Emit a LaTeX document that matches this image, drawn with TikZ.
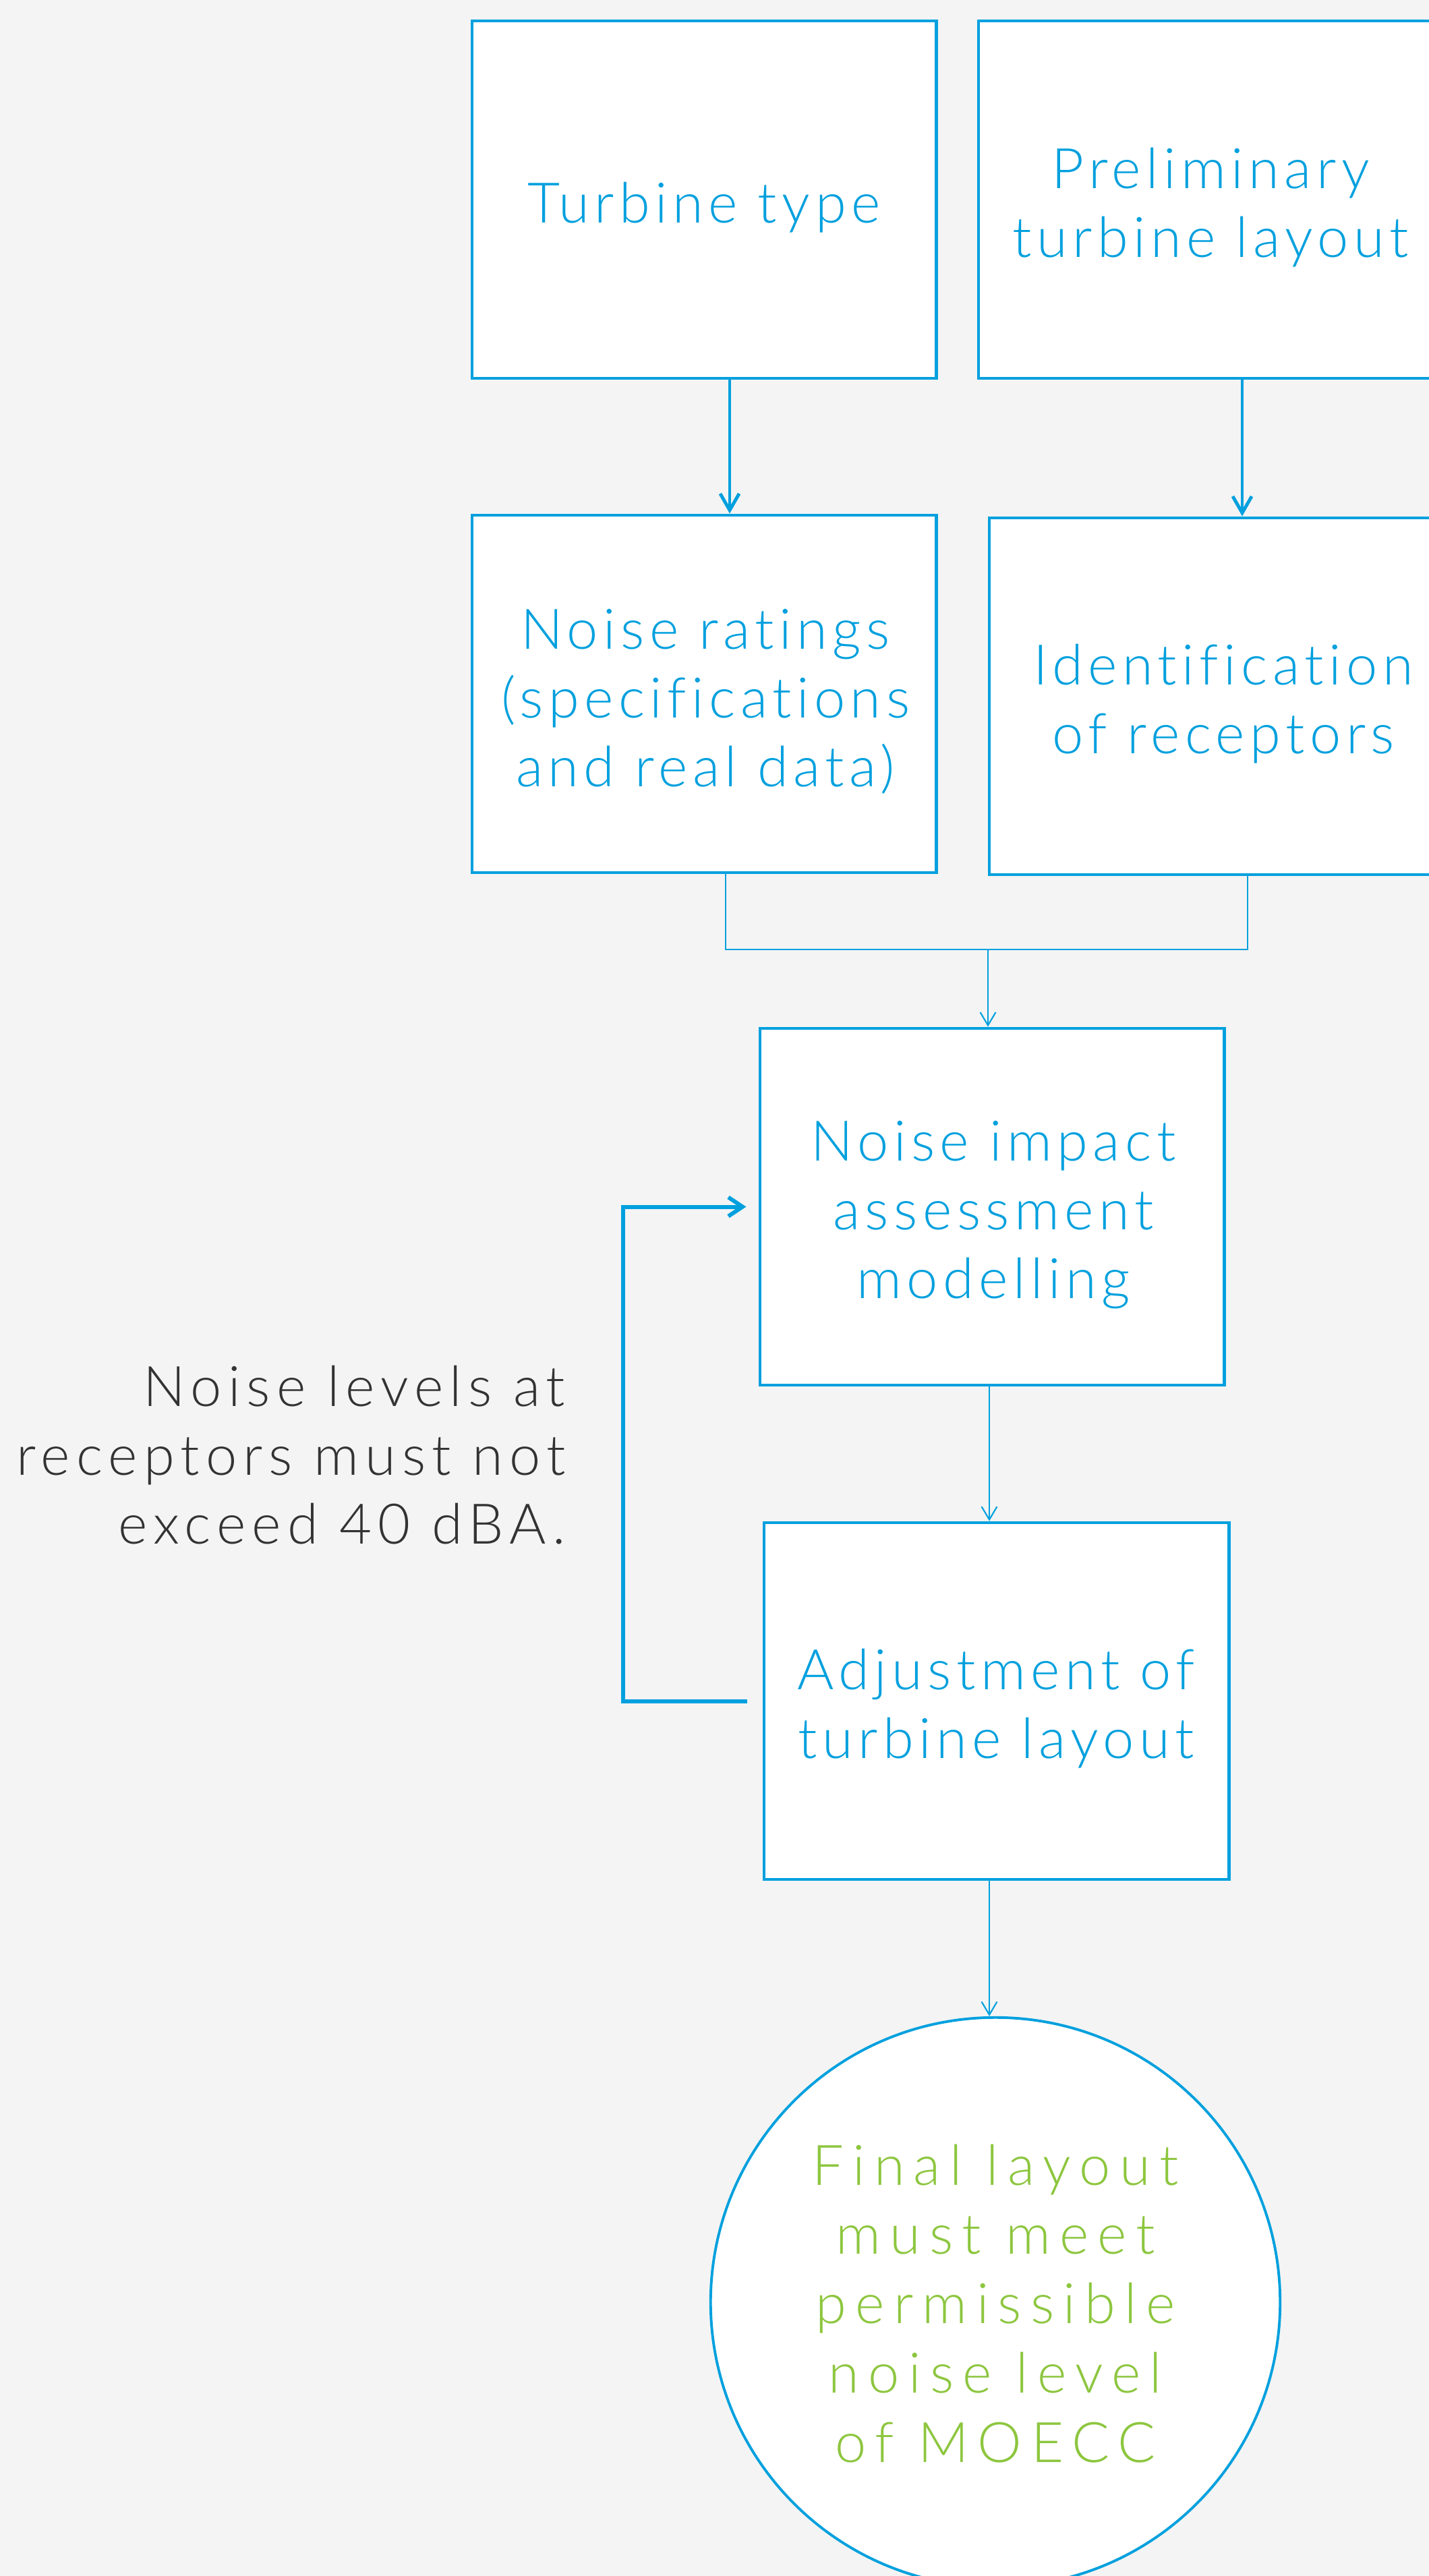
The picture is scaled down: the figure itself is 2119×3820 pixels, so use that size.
\documentclass[tikz,border=0pt]{standalone}
\usepackage{fontspec}
\usetikzlibrary{arrows.meta,calc}
\newfontfamily\lightfont{Lato Light}[LetterSpace=9,Ligatures={NoCommon,NoRare,NoContextual}]
\newfontfamily\darkfont{Lato Light}[LetterSpace=11,Ligatures={NoCommon,NoRare,NoContextual}]
\newfontfamily\greenfont{Lato Light}[LetterSpace=16,Ligatures={NoCommon,NoRare,NoContextual}]
\definecolor{bgc}{RGB}{244,244,244}
\definecolor{blu}{RGB}{0,160,222}
\definecolor{grn}{RGB}{141,198,63}
\definecolor{drk}{RGB}{51,51,51}
\begin{document}
\begin{tikzpicture}[x=0.01cm,y=-0.01cm,
  boxst/.style={draw=blu,fill=white,line width=1.3pt,inner sep=0pt,minimum width=6.88cm,minimum height=5.30cm},
  bluetext/.style={text=blu,font=\lightfont\fontsize{23.6pt}{29pt}\selectfont,align=center,inner sep=0pt,anchor=base},
  darktext/.style={text=drk,font=\darkfont\fontsize{23.6pt}{29pt}\selectfont,align=right,inner sep=0pt,anchor=base east},
  greentext/.style={text=grn,font=\greenfont\fontsize{23.6pt}{29.2pt}\selectfont,align=center,inner sep=0pt,anchor=base},
  thickarrow/.style={draw=blu,line width=1.4pt,-{Straight Barb[length=7pt,width=8pt,line width=1.4pt]}},
  thinline/.style={draw=blu,line width=0.5pt},
  thinarrow/.style={draw=blu,line width=0.5pt,-{Straight Barb[length=5.5pt,width=6.5pt,line width=0.6pt]}},
  fbarrow/.style={draw=blu,line width=1.7pt,-{Straight Barb[length=6pt,width=8pt,line width=1.7pt]}}
]
\useasboundingbox (0,0) rectangle (2119,3820);
\fill[bgc] (0,0) rectangle (2119,3820);
\begin{scope}
\clip (0,0) rectangle (2119,3820);
% boxes
\node[boxst] (b1) at (1044,296) {};
\node[boxst] (b2) at (1795,296) {};
\node[boxst] (b3) at (1044,1029) {};
\node[boxst,minimum width=6.94cm,minimum height=5.29cm] (b4) at (1814,1032.5) {};
\node[boxst,minimum height=5.29cm] (b5) at (1471,1789.5) {};
\node[boxst,minimum width=6.89cm,minimum height=5.29cm] (b6) at (1477.5,2522.5) {};
\node[circle,draw=blu,fill=white,line width=1.1pt,minimum size=8.44cm,inner sep=0pt] (c1) at (1476,3414) {};
% texts (anchor = baseline of last line)
\node[bluetext] (t1) at (1044,330) {Turbine type};
\node[bluetext] (t2) at (1795,381) {Preliminary\\turbine layout};
\node[bluetext] (t3) at (1046,1166) {Noise ratings\\(specifications\\and real data)};
\node[bluetext] (t4) at (1814,1117) {Identification\\of receptors};
\node[bluetext] (t5) at (1473,1925) {Noise impact\\assessment\\modelling};
\node[bluetext] (t6) at (1477,2607) {Adjustment of\\turbine layout};
\node[darktext] (t7) at (839,2289) {Noise levels at\\receptors must not\\exceed 40 dBA.};
\node[greentext] (t8) at (1476,3651) {Final layout\\must meet\\permissible\\noise level\\of MOECC};
% connectors
\coordinate (xa) at (1082,0);
\coordinate (xb) at (1842,0);
\coordinate (xl) at (1076,0);
\coordinate (xr) at (1850,0);
\coordinate (xm) at (1465,0);
\coordinate (ym) at (0,1408);
\coordinate (xc) at (1467,0);
\coordinate (xf) at (924,0);
\draw[thickarrow] (b1.south -| xa) -- (b3.north -| xa);
\draw[thickarrow] (b2.south -| xb) -- (b4.north -| xb);
\draw[thinline] (b3.south -| xl) -- (xl |- ym) -- (xr |- ym) -- (b4.south -| xr);
\draw[thinarrow] (xm |- ym) -- (b5.north -| xm);
\draw[thinarrow] (b5.south -| xc) -- (b6.north -| xc);
\draw[thinarrow] (b6.south -| xc) -- (c1.north -| xc);
\draw[fbarrow] ([xshift=-0.23cm]b6.west) -- (b6.west -| xf) -- (b5.west -| xf) -- ([xshift=-0.18cm]b5.west);
\end{scope}
\end{tikzpicture}
\end{document}
